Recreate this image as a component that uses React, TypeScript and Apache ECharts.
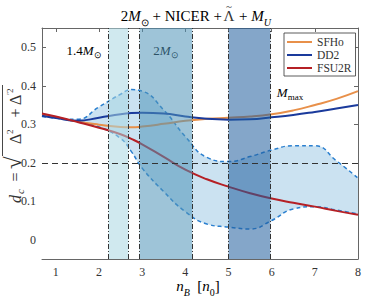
import React, { useEffect, useRef } from 'react';
import * as echarts from 'echarts';

const nB = [0.68, 1, 1.5, 2, 2.5, 2.75, 3, 3.5, 4, 4.5, 5, 5.5, 6, 6.5, 7, 7.5, 8];
const sfho = [0.325, 0.318, 0.307, 0.299, 0.293, 0.292, 0.294, 0.301, 0.309, 0.314, 0.317, 0.32, 0.326, 0.336, 0.35, 0.366, 0.386];
const dd2 = [0.322, 0.316, 0.309, 0.317, 0.326, 0.329, 0.33, 0.328, 0.32, 0.314, 0.312, 0.313, 0.318, 0.324, 0.332, 0.341, 0.35];
const fsu2r = [0.328, 0.32, 0.306, 0.291, 0.274, 0.262, 0.248, 0.215, 0.182, 0.157, 0.138, 0.121, 0.107, 0.096, 0.086, 0.075, 0.065];
const upper = [0.322, 0.316, 0.313, 0.345, 0.378, 0.39, 0.386, 0.337, 0.268, 0.214, 0.203, 0.216, 0.233, 0.244, 0.244, 0.205, 0.16];
const lower = [0.32, 0.316, 0.307, 0.293, 0.263, 0.229, 0.186, 0.125, 0.073, 0.041, 0.033, 0.028, 0.05, 0.08, 0.086, 0.077, 0.067];

const xTicks = [1, 2, 3, 4, 5, 6, 7, 8];
const yTicks = [0, 0.1, 0.2, 0.3, 0.4, 0.5];
const bands = [[2.22, 2.68], [2.94, 4.16], [5.0, 5.97]];
const bandColors = ['rgba(170,215,226,0.55)', 'rgba(79,148,184,0.55)', 'rgba(31,93,157,0.55)'];
const threshold = 0.2;

const FONT = 'Liberation Serif';
const INK = '#333';

function tok(size: number, italic = false, lh = 22, va = 'middle') {
  return { fontFamily: FONT, fontSize: size, fontStyle: italic ? 'italic' : 'normal', fontWeight: 'normal', color: INK, lineHeight: lh, verticalAlign: va };
}

function txt(text: string, x: number, y: number, size: number, italic = false, align = 'left') {
  return {
    type: 'text', x, y,
    style: { text, fontFamily: FONT, fontSize: size, fontStyle: italic ? 'italic' : 'normal', fontWeight: 'normal', fill: INK, align, verticalAlign: 'middle' },
  };
}

export default function App() {
  const ref = useRef<HTMLDivElement>(null);
  useEffect(() => {
    const chart = echarts.init(ref.current!, null, { renderer: 'svg' });
    const pairs = (ys: number[]) => nB.map((x, i) => [x, ys[i]]);
    const axisCommon = {
      axisLine: { show: true, onZero: false, lineStyle: { color: '#666', width: 1 } },
      splitLine: { show: false },
    };
    const mathRich = { r: tok(15), i: tok(15, true), s: tok(10, false, 22, 'bottom'), si: tok(10, true, 22, 'bottom') };
    const annRich = { r: tok(13, false, 19), i: tok(13, true, 19), s: tok(9, false, 19, 'bottom') };
    chart.setOption({
      animation: false,
      grid: { left: 42, right: 16, top: 28, bottom: 39, show: false },
      xAxis: [
        {
          type: 'value', min: 0.68, max: 8, position: 'bottom', ...axisCommon,
          axisTick: { show: true, inside: true, length: 4, customValues: xTicks, lineStyle: { color: '#666' } },
          axisLabel: { customValues: xTicks, fontFamily: FONT, fontSize: 12, color: '#333', margin: 7 },
        },
        {
          type: 'value', min: 0.68, max: 8, position: 'top', ...axisCommon,
          axisTick: { show: true, inside: true, length: 4, customValues: xTicks, lineStyle: { color: '#666' } },
          axisLabel: { show: false },
        },
      ],
      yAxis: [
        {
          type: 'value', min: -0.05, max: 0.55, position: 'left', ...axisCommon,
          axisTick: { show: true, inside: true, length: 4, customValues: yTicks, lineStyle: { color: '#666' } },
          axisLabel: {
            customValues: yTicks, fontFamily: FONT, fontSize: 12, color: '#333', margin: 6,
            formatter: (v: number) => String(Math.round(v * 10) / 10),
          },
        },
        {
          type: 'value', min: -0.05, max: 0.55, position: 'right', ...axisCommon,
          axisTick: { show: true, inside: true, length: 4, customValues: yTicks, lineStyle: { color: '#666' } },
          axisLabel: { show: false },
        },
      ],
      legend: {
        data: ['SFHo', 'DD2', 'FSU2R'],
        orient: 'vertical', left: 284, top: 33,
        icon: 'rect', itemWidth: 25, itemHeight: 2, itemGap: 1,
        padding: [3, 4, 2, 3],
        borderColor: '#333', borderWidth: 0.8, backgroundColor: '#fff', borderRadius: 0,
        textStyle: { fontFamily: FONT, fontSize: 11.5, color: INK, lineHeight: 12 },
      },
      series: [
        {
          name: 'envUpperFill', type: 'line', data: pairs(upper), smooth: 0.5,
          showSymbol: false, silent: true, lineStyle: { opacity: 0 },
          areaStyle: { color: '#cbe2f1', opacity: 1, origin: 'start' }, z: 1,
        },
        {
          name: 'envLowerMask', type: 'line', data: pairs(lower), smooth: 0.5,
          showSymbol: false, silent: true, lineStyle: { opacity: 0 },
          areaStyle: { color: '#ffffff', opacity: 1, origin: 'start' }, z: 1,
        },
        {
          name: 'upper', type: 'line', data: pairs(upper), smooth: 0.5, showSymbol: false, silent: true,
          lineStyle: { color: '#2a7fcf', width: 1.5, type: [4, 3] }, z: 2,
        },
        {
          name: 'lower', type: 'line', data: pairs(lower), smooth: 0.5, showSymbol: false, silent: true,
          lineStyle: { color: '#2a7fcf', width: 1.5, type: [4, 3] }, z: 2,
        },
        {
          name: 'SFHo', type: 'line', data: pairs(sfho), smooth: 0.5, showSymbol: false,
          color: '#e8904a', lineStyle: { color: '#e8904a', width: 2 }, z: 3,
        },
        {
          name: 'DD2', type: 'line', data: pairs(dd2), smooth: 0.5, showSymbol: false,
          color: '#1a3a9c', lineStyle: { color: '#1a3a9c', width: 2 }, z: 3,
        },
        {
          name: 'FSU2R', type: 'line', data: pairs(fsu2r), smooth: 0.5, showSymbol: false,
          color: '#b52025', lineStyle: { color: '#b52025', width: 2 }, z: 3,
        },
        {
          name: 'bands', type: 'line', data: [], z: 10, silent: true,
          markArea: {
            silent: true, z: 10,
            label: { show: false },
            data: bands.map((b, i) => [
              { xAxis: b[0], itemStyle: { color: bandColors[i] } },
              { xAxis: b[1] },
            ]),
          },
          markLine: {
            silent: true, z: 11, symbol: 'none', label: { show: false },
            lineStyle: { color: '#333', width: 1, type: [5, 2, 1, 2] },
            data: [
              ...bands.flat().map((x) => ({ xAxis: x })),
              { yAxis: threshold, lineStyle: { color: '#333', width: 1, type: [6, 4] } },
            ],
          },
        },
      ],
      graphic: [
        {
          type: 'text', x: 222, y: 16,
          style: { text: '{r|2}{i|M}{s|⊙}{r| + NICER +}', rich: mathRich, align: 'right', verticalAlign: 'middle' },
        },
        txt('Λ', 229, 16, 15, false, 'center'),
        txt('~', 229, 6, 11, false, 'center'),
        {
          type: 'text', x: 239, y: 16,
          style: { text: '{r|+ }{i|M}{si|U}', rich: mathRich, align: 'left', verticalAlign: 'middle' },
        },
        {
          type: 'text', x: 84, y: 50,
          style: { text: '{r|1.4}{i|M}{s|⊙}', rich: annRich, align: 'center', verticalAlign: 'middle' },
        },
        {
          type: 'text', x: 166, y: 50,
          style: { text: '{r|2}{i|M}{s|⊙}', rich: annRich, align: 'center', verticalAlign: 'middle' },
        },
        {
          type: 'text', x: 290, y: 92,
          style: { text: '{i|M}{s|max}', rich: annRich, align: 'center', verticalAlign: 'middle' },
        },
        {
          type: 'text', x: 198, y: 286,
          style: { text: '{i|n}{si|B}{r|  [}{i|n}{s|0}{r|]}', rich: mathRich, align: 'center', verticalAlign: 'middle' },
        },
        {
          type: 'group', x: 16, y: 144, rotation: Math.PI / 2,
          children: [
            txt('d', -59, -1, 16, true),
            txt('c', -50, 4, 11, true),
            txt('=', -33, -1, 16, false, 'center'),
            txt('√', -25, -3, 23),
            {
              type: 'line', shape: { x1: -12, y1: -13.5, x2: 59, y2: -13.5 },
              style: { stroke: INK, lineWidth: 0.9 },
            },
            txt('Δ', 0, -1, 16),
            txt('2', 10, -6, 9),
            txt('+', 31, -1, 16, false, 'center'),
            txt('Δ', 39, -1, 16),
            txt('′2', 49, -6, 9),
          ],
        },
      ],
    });
    return () => chart.dispose();
  }, []);
  return <div ref={ref} style={{ position: 'absolute', left: 0, top: 0, width: 374, height: 298 }} />;
}
